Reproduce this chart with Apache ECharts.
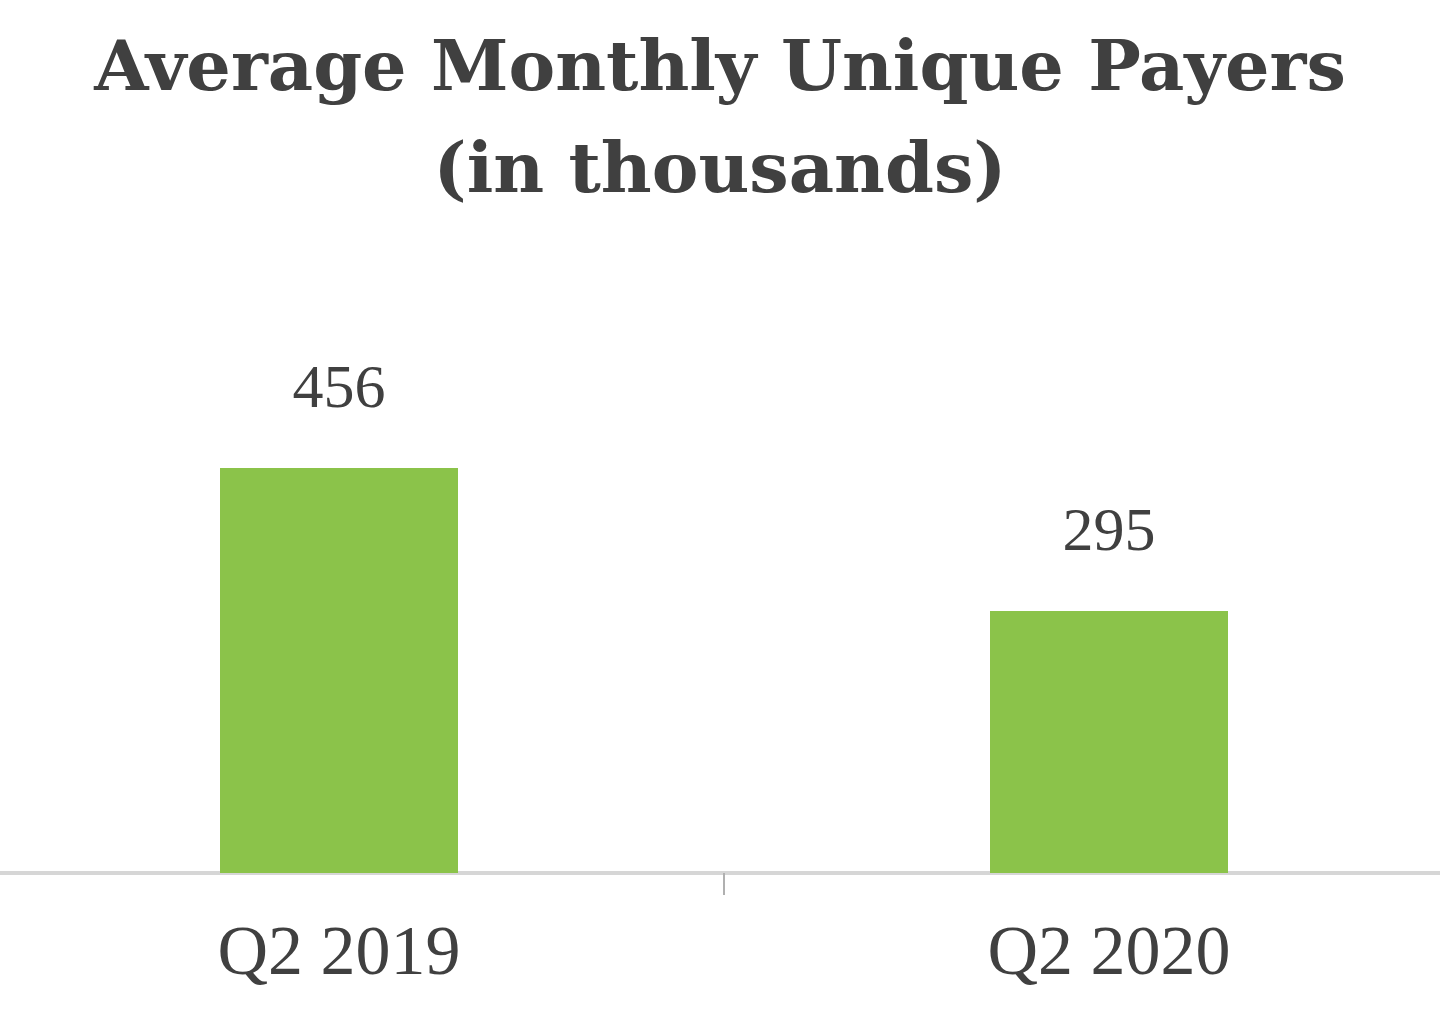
<!DOCTYPE html>
<html>
<head>
<meta charset="utf-8">
<title>Average Monthly Unique Payers</title>
<script src="https://cdn.jsdelivr.net/npm/echarts@6/dist/echarts.min.js"></script>
<style>
  html, body { margin: 0; padding: 0; background: #fff; }
  #chart { width: 1440px; height: 1010px; }
</style>
</head>
<body>
<div id="chart"></div>
<script>
const categories = ['Q2 2019', 'Q2 2020'];
const payers = [456, 295];

const barColor = '#8bc34a';
const textColor = '#404040';

const chart = echarts.init(document.getElementById('chart'));

chart.setOption({
  backgroundColor: '#fff',
  title: {
    text: 'Average Monthly Unique Payers\n(in thousands)',
    left: 'center',
    top: 16,
    textStyle: {
      fontFamily: 'DejaVu Serif',
      fontWeight: 'bold',
      fontSize: 70,
      lineHeight: 102,
      color: textColor
    }
  },
  grid: {
    left: -46,
    right: -54,
    top: 429,
    bottom: 137,
    outerBoundsMode: 'none'
  },
  xAxis: {
    type: 'category',
    data: categories,
    axisLine: {
      lineStyle: { color: '#d6d6d6', width: 4 }
    },
    axisTick: {
      show: true,
      length: 22,
      lineStyle: { color: '#b0b0b0', width: 2 }
    },
    axisLabel: {
      margin: 48,
      fontFamily: 'Liberation Serif',
      fontSize: 70,
      color: textColor
    }
  },
  yAxis: {
    type: 'value',
    min: 0,
    max: 500,
    show: false
  },
  series: [
    {
      type: 'bar',
      data: payers,
      barWidth: 238,
      itemStyle: { color: barColor },
      label: {
        show: true,
        position: 'top',
        distance: 46,
        fontFamily: 'Liberation Serif',
        fontSize: 62,
        color: textColor
      }
    }
  ]
});
</script>
</body>
</html>
